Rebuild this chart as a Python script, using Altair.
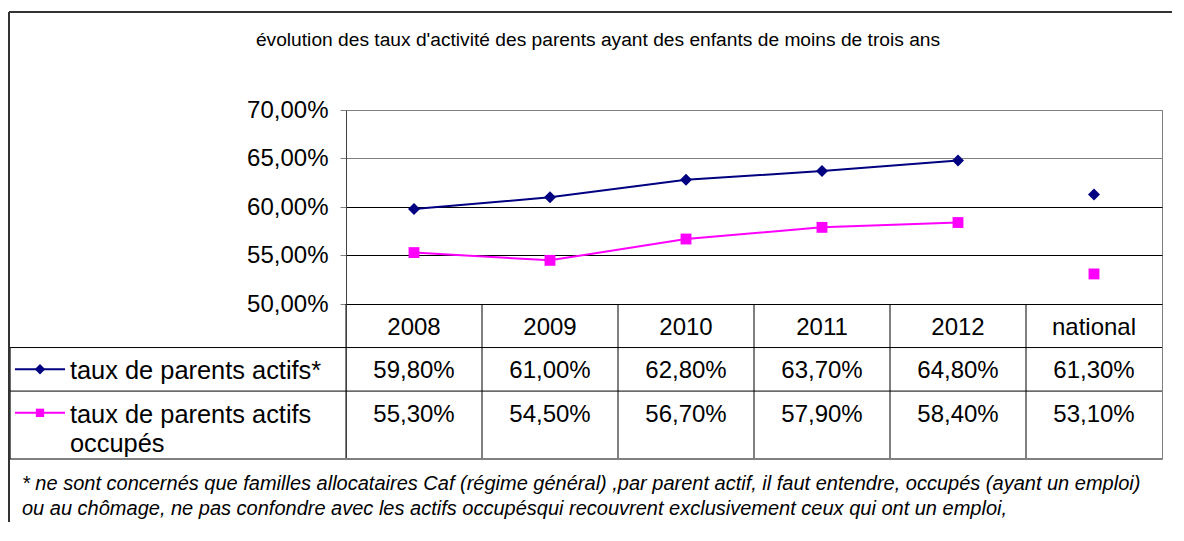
import altair as alt
import pandas as pd

FONT = "Liberation Sans"

# ---------------- data ----------------
CATS = ["2008", "2009", "2010", "2011", "2012", "national"]
ACTIFS = [0.598, 0.610, 0.628, 0.637, 0.648, 0.613]
OCCUPES = [0.553, 0.545, 0.567, 0.579, 0.584, 0.531]
SERIES = ["taux de  parents actifs*", "taux de parents actifs\noccupés"]
COLORS = ["#000080", "#FF00FF"]
SHAPES = ["diamond", "square"]
Y_TICKS = [0.50, 0.55, 0.60, 0.65, 0.70]
TITLE = "évolution des taux d'activité des parents ayant des enfants de moins de trois ans"
FOOTNOTE = [
    "* ne sont concernés que familles allocataires Caf (régime général) ,par parent actif, il faut entendre, occupés (ayant un emploi)",
    "ou au chômage, ne pas confondre avec les actifs occupésqui recouvrent exclusivement ceux qui ont un emploi,",
]

# ---------------- layout ----------------
W, H_PLOT, H = 816, 194, 349
ROW_TOP = [0.0, 1.0, 2.0]      # table rows in table units (header, row1, row2)
T_TOTAL = 3.56
TEXT_OFF = 0.266
SYM_OFF = 0.5
LEG_LEFT = -2.47               # legend column, in column units left of the first column
LEG_LINE = (-2.434, -2.066)
LEG_MARK = -2.25
LEG_TEXT = -2.03

long = pd.DataFrame(
    [{"cat": c, "idx": i, "value": v, "series": s, "row": r + 1}
     for r, (s, vals) in enumerate(zip(SERIES, [ACTIFS, OCCUPES]))
     for i, (c, v) in enumerate(zip(CATS, vals))]
)
long["ty"] = [ROW_TOP[r] + TEXT_OFF for r in long["row"]]

color = alt.Color("series:N", scale=alt.Scale(domain=SERIES, range=COLORS), legend=None)
shape = alt.Shape("series:N", scale=alt.Scale(domain=SERIES, range=SHAPES), legend=None)


def x_cat():
    return alt.X("cat:N", scale=alt.Scale(type="point", domain=CATS, padding=0.5), axis=None)


def y_val(axis=None):
    return alt.Y("value:Q", scale=alt.Scale(domain=[0.5, 0.7], range=[H_PLOT, 0], nice=False, zero=False),
                 axis=axis)


def ty(field):
    return alt.Y(f"{field}:Q", scale=alt.Scale(domain=[0, T_TOTAL], range=[H_PLOT, H], nice=False, zero=False),
                 axis=None)


def tx(field):
    return alt.X(f"{field}:Q", scale=alt.Scale(domain=[0, len(CATS)], nice=False, zero=False), axis=None)


y_axis = alt.Axis(
    values=Y_TICKS,
    labelExpr="replace(format(datum.value, '.2%'), '.', ',')",
    title=None,
    labelFont=FONT, labelFontSize=24, labelColor="black",
    tickSize=6, tickColor="#808080", labelPadding=12,
    domainColor="#404040", domainWidth=1,
    grid=True, gridWidth=1,
    gridColor={"condition": {"test": "datum.value >= 0.645", "value": "#808080"}, "value": "#000000"},
)

lines = alt.Chart(long).transform_filter("datum.cat != 'national'").mark_line(strokeWidth=2).encode(
    x=x_cat(), y=y_val(y_axis), color=color
)
points = alt.Chart(long).mark_point(filled=True, opacity=1).encode(
    x=x_cat(), y=y_val(), color=color, shape=shape,
    size=alt.Size("series:N", scale=alt.Scale(domain=SERIES, range=[144, 118]), legend=None),
)

# ---------------- table ----------------
txt = dict(font=FONT, color="black", baseline="top")

head = alt.Chart(pd.DataFrame({"cat": CATS, "ty": ROW_TOP[0] + TEXT_OFF})).mark_text(
    align="center", fontSize=24, **txt
).encode(x=x_cat(), y=ty("ty"), text="cat:N")
vals = alt.Chart(long).transform_calculate(
    label="replace(format(datum.value, '.2%'), '.', ',')"
).mark_text(align="center", fontSize=24, **txt).encode(x=x_cat(), y=ty("ty"), text="label:N")

labels = alt.Chart(pd.DataFrame({
    "series": SERIES, "tx": LEG_TEXT, "ty": [ROW_TOP[1] + TEXT_OFF, ROW_TOP[2] + TEXT_OFF]
})).mark_text(align="left", lineBreak="\n", lineHeight=29, fontSize=25.4, **txt).encode(
    x=tx("tx"), y=ty("ty"), text="series:N"
)

sym = pd.DataFrame({
    "series": SERIES, "x1": LEG_LINE[0], "x2": LEG_LINE[1], "xm": LEG_MARK,
    "ty": [ROW_TOP[1] + SYM_OFF, ROW_TOP[2] + SYM_OFF],
})
sym_line = alt.Chart(sym).mark_rule(strokeWidth=2).encode(x=tx("x1"), x2="x2:Q", y=ty("ty"), color=color)
sym_pt = alt.Chart(sym).mark_point(filled=True, opacity=1).encode(
    x=tx("xm"), y=ty("ty"), color=color, shape=shape,
    size=alt.Size("series:N", scale=alt.Scale(domain=SERIES, range=[110, 70]), legend=None),
)

v_lines = alt.Chart(pd.DataFrame({"x": list(range(len(CATS))), "y1": 0.0, "y2": T_TOTAL})).mark_rule(
    color="black", strokeWidth=1
).encode(x=tx("x"), y=ty("y1"), y2="y2:Q")
h_lines = alt.Chart(pd.DataFrame({"y": [1.0, 2.0], "x1": LEG_LEFT, "x2": float(len(CATS))})).mark_rule(
    color="black", strokeWidth=1
).encode(x=tx("x1"), x2="x2:Q", y=ty("y"))
bottom = alt.Chart(pd.DataFrame({"y": [T_TOTAL], "x1": LEG_LEFT, "x2": float(len(CATS))})).mark_rule(
    color="#808080", strokeWidth=2
).encode(x=tx("x1"), x2="x2:Q", y=ty("y"))
left_edge = alt.Chart(pd.DataFrame({"x": [LEG_LEFT], "y1": 1.0, "y2": T_TOTAL})).mark_rule(
    color="black", strokeWidth=1
).encode(x=tx("x"), y=ty("y1"), y2="y2:Q")

# ---------------- frame, title, footnote ----------------
one = pd.DataFrame({"a": [0]})
frame_l = alt.Chart(one).mark_rule(color="#333333", strokeWidth=2).encode(
    x=alt.value(-337), y=alt.value(-98), y2=alt.value(412)
)
frame_t = alt.Chart(one).mark_rule(color="#333333", strokeWidth=2).encode(
    x=alt.value(-337), x2=alt.value(826), y=alt.value(-98)
)
title = alt.Chart(pd.DataFrame({"t": [TITLE]})).mark_text(
    font=FONT, fontSize=19.2, align="center", baseline="middle", color="black"
).encode(x=alt.value(252), y=alt.value(-70), text="t:N")
foot = alt.Chart(pd.DataFrame({"t": ["\n".join(FOOTNOTE)]})).mark_text(
    font=FONT, fontSize=20, fontStyle="italic", align="left", baseline="top", lineBreak="\n",
    lineHeight=25, color="black"
).encode(x=alt.value(-324), y=alt.value(364), text="t:N")

chart = alt.layer(
    v_lines, h_lines, bottom, left_edge,
    lines, points,
    head, vals, labels, sym_line, sym_pt,
    frame_l, frame_t, title, foot,
).resolve_scale(
    x="independent", y="independent", size="independent"
).properties(
    width=W, height=H, padding={"left": 0, "top": 3, "right": 0, "bottom": 0}
).configure_view(stroke="#808080", strokeWidth=1)

chart.save("out.html", embed_options={"renderer": "svg", "actions": False})
